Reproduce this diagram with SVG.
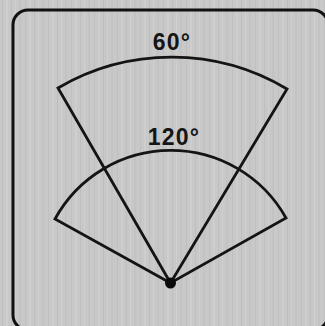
<svg xmlns="http://www.w3.org/2000/svg" width="325" height="326" viewBox="0 0 325 326">
  <defs>
    <pattern id="brush" width="23" height="10" patternUnits="userSpaceOnUse">
      <rect width="23" height="10" fill="#c8c8c8"/>
      <rect x="2" width="1" height="10" fill="#c0c0c0"/>
      <rect x="6" width="2" height="10" fill="#cecece"/>
      <rect x="11" width="1" height="10" fill="#bfbfbf"/>
      <rect x="15" width="1" height="10" fill="#cfcfcf"/>
      <rect x="19" width="2" height="10" fill="#c3c3c3"/>
    </pattern>
  </defs>
  <style>
    .ln { fill: none; stroke: #141414; stroke-width: 2.8; stroke-linejoin: miter; }
    .lbl { font-family: "Liberation Sans", Arial, sans-serif; font-weight: bold; font-size: 23px; fill: #151515; text-anchor: middle; letter-spacing: 1.2px; }
  </style>
  <rect width="325" height="326" fill="url(#brush)"/>
  <g id="frame">
    <rect x="13" y="10" width="315" height="320" rx="15" ry="15" fill="none" stroke="#111" stroke-width="3"/>
  </g>
  <g id="connectors">
    <path id="wedge60" class="ln" d="M170.5,283 L58,88 A225,225 0 0 1 287,89 Z"/>
    <path id="wedge120" class="ln" d="M170.5,283 L55,219 A132,132 0 0 1 286,218 Z"/>
  </g>
  <g id="apex">
    <circle cx="170.5" cy="283" r="5.5" fill="#0a0a0a"/>
  </g>
  <g id="label60">
    <text class="lbl" x="172" y="50">60°</text>
  </g>
  <g id="label120">
    <text class="lbl" x="174" y="145">120°</text>
  </g>
</svg>
